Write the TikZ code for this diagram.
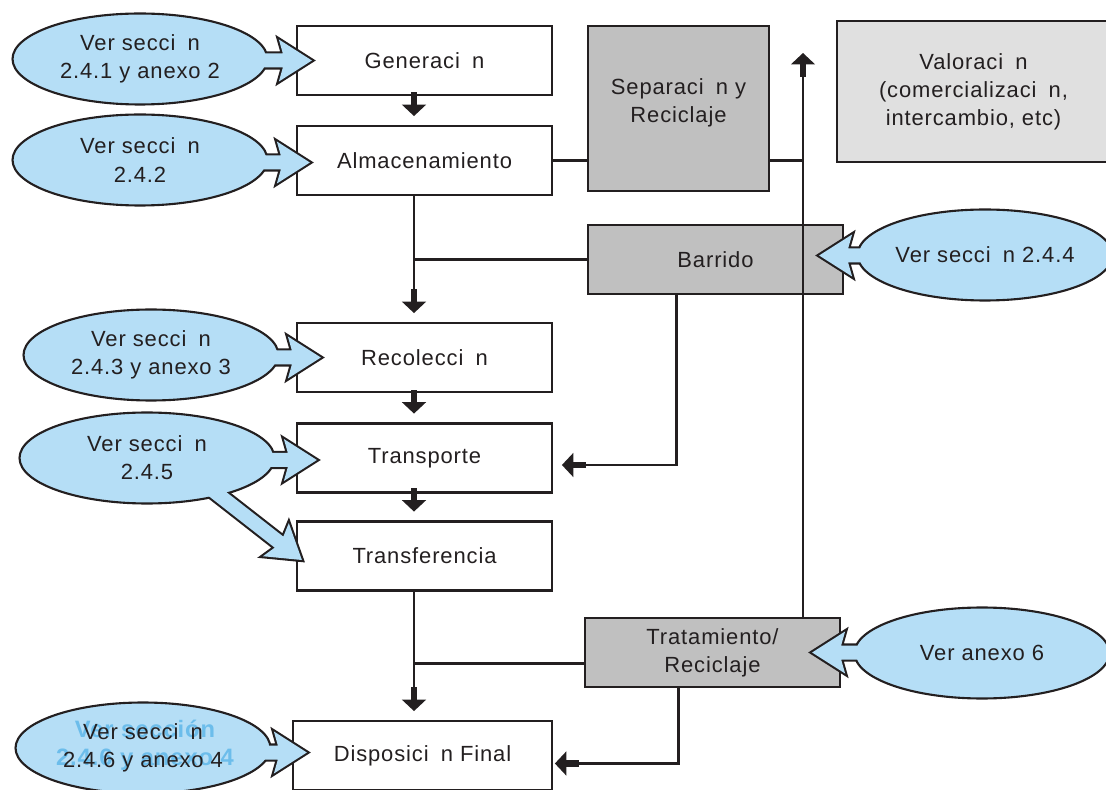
\documentclass[tikz,border=0pt]{standalone}
\usepackage{fontspec}
\setmainfont{Liberation Sans}[LetterSpace=4]
\usetikzlibrary{shapes.geometric,arrows.meta,calc}

\definecolor{ink}{HTML}{231F20}
\definecolor{notefill}{HTML}{B5DEF6}
\definecolor{ghostblue}{HTML}{6CBDEB}
\definecolor{stepgrey}{HTML}{C0C0C0}
\definecolor{palegrey}{HTML}{E0E0E0}

\newcommand\stagefont{\fontsize{12.5}{16}\selectfont}
\newcommand\ghostfont{\fontsize{13.5}{16}\selectfont\bfseries}

\pgfdeclarelayer{rim}
\pgfdeclarelayer{notes}
\pgfdeclarelayer{top}
\pgfsetlayers{main,rim,notes,top}

\tikzset{
  stage/.style={draw=ink, line width=1.3pt, text=ink, align=center, font=\stagefont,
    minimum width=5.1cm, minimum height=1.38cm, inner sep=0pt},
  side/.style={stage, fill=stepgrey},
  note/.style={ellipse, draw=ink, line width=1.2pt, fill=notefill, text=ink, align=center,
    font=\stagefont, minimum width=5.1cm, minimum height=1.82cm, inner sep=0pt},
  ghost/.style={text=ghostblue, align=center, font=\ghostfont},
  link/.style={draw=ink, line width=1.4pt},
  flow/.style={link, shorten >=5pt,
    -{Rectangle[length=7pt,width=3.6pt,sep=0pt]Triangle[length=6.5pt,width=13.5pt,sep=0pt]}},
  rim/.style={draw=ink, line width=2.4pt, fill=notefill},
  pointer/.pic={\path[pic actions] (0,0) -- (-33,-21) -- (-29,-7) -- (-#1,-7)
    -- (-#1,7) -- (-29,7) -- (-33,21) -- cycle;}
}

\begin{document}
\begin{tikzpicture}[x=0.02cm, y=-0.02cm]
  \useasboundingbox (0,0) rectangle (1106,790);

  % main chain
  \node[stage] (gen) at (424.5,60.5) {Generaci\phantom{o}n};
  \node[stage] (alm) at (424.5,160.5) {Almacenamiento};
  \node[stage] (rec) at (424.5,357.5) {Recolecci\phantom{o}n};
  \node[stage] (trans) at (424.5,458) {Transporte};
  \node[stage] (transf) at (424.5,556) {Transferencia};
  \node[stage, minimum width=5.18cm] (disp) at (422.5,755.5) {Disposici\phantom{o}n Final};

  % side boxes
  \node[side, minimum width=3.62cm, minimum height=3.3cm] (sep) at (678.5,108.5)
    {Separaci\phantom{o}n y\\Reciclaje\\[-0.25cm]\mbox{}};
  \node[side] (barrido) at (715.5,259.5) {Barrido};
  \node[side] (trat) at (712.5,652.5) {Tratamiento/\\Reciclaje};
  \node[stage, fill=palegrey, minimum width=5.46cm, minimum height=2.82cm] (valor) at (973.5,91.5)
    {Valoraci\phantom{o}n\\(comercializaci\phantom{o}n,\\intercambio, etc)};

  \coordinate (trunk) at (414,0);
  \coordinate (riser) at (803,53);

  \draw[flow] (gen.south -| trunk) -- (alm.north -| trunk);
  \draw[flow] (alm.south -| trunk) -- (rec.north -| trunk);
  \draw[flow] (rec.south -| trunk) -- (trans.north -| trunk);
  \draw[flow] (trans.south -| trunk) -- (transf.north -| trunk);
  \draw[flow] (transf.south -| trunk) -- (disp.north -| trunk);
  \draw[link] (barrido.west) -- (barrido.west -| trunk);
  \draw[link] ($(trat.west)+(0,11)$) -- ($(trat.west -| trunk)+(0,11)$);
  \draw[link] (alm.east) -- (alm.east -| sep.west);
  \draw[link] (sep.east |- alm.east) -- (alm.east -| riser);
  \draw[flow, shorten >=0pt] (trat.north -| riser) -- (riser);
  \draw[flow] ($(barrido.south)+(-39,0)$) |- ($(trans.east)+(0,7)$);
  \draw[flow, shorten >=1pt] ($(trat.south)+(-34,0)$) |- ($(disp.east)+(0,8)$);

  % callouts
  \begin{pgfonlayer}{notes}
    \node[note] (n1) at (140,59) {Ver secci\phantom{o}n\\2.4.1 y anexo 2};
    \node[note] (n2) at (140,160) {Ver secci\phantom{o}n\\2.4.2};
    \node[note] (n3) at (151,355) {Ver secci\phantom{o}n\\2.4.3 y anexo 3};
    \node[note] (n4) at (147,458) {Ver secci\phantom{o}n\\2.4.5};
    \node[note] (n5) at (985,255) {Ver secci\phantom{o}n 2.4.4};
    \node[note] (n6) at (982,653) {Ver anexo 6};
    \node[note, path picture={\node[ghost] at ($(path picture bounding box.center)+(2,-3)$)
      {Ver sección\\2.4.6 y anexo 4};}] (n7) at (143,748) {Ver secci\phantom{o}n\\2.4.6 y anexo 4};
  \end{pgfonlayer}

  \coordinate (p1) at ($(gen.west)+(16,0)$);
  \coordinate (p2) at ($(alm.west)+(14,2)$);
  \coordinate (p3) at ($(rec.west)+(25,0)$);
  \coordinate (p4) at ($(trans.west)+(21,2)$);
  \coordinate (p4b) at ($(transf.west)+(6,4)$);
  \coordinate (p5) at ($(barrido.east)+(-25,-4)$);
  \coordinate (p6) at ($(trat.east)+(-29,0)$);
  \coordinate (p7) at ($(disp.west)+(15,-3)$);

  \foreach \tip/\turn/\len in {p1/0/60, p2/0/60, p3/0/60, p4/0/60, p4b/-38/120,
      p5/180/60, p6/180/60, p7/0/60} {
    \begin{pgfonlayer}{rim}
      \pic[rim, rotate=\turn] at (\tip) {pointer=\len};
    \end{pgfonlayer}
    \begin{pgfonlayer}{top}
      \pic[fill=notefill, rotate=\turn] at (\tip) {pointer=\len};
    \end{pgfonlayer}
  }
\end{tikzpicture}
\end{document}
